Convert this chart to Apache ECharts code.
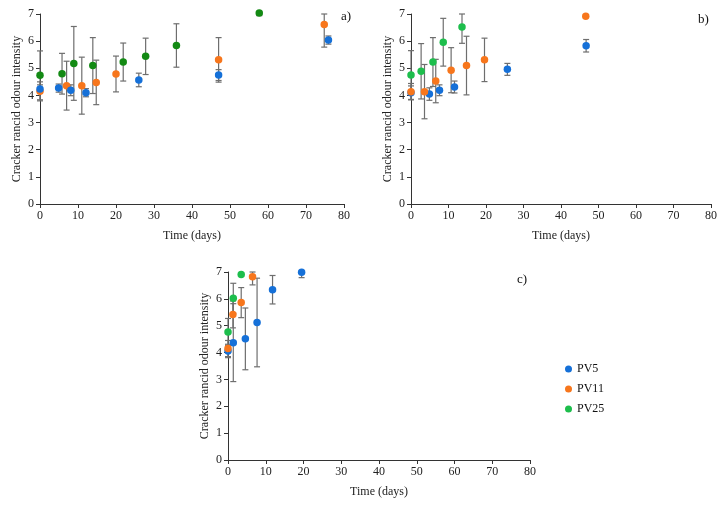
<!DOCTYPE html>
<html lang="en">
<head>
<meta charset="UTF-8">
<title>Cracker rancid odour</title>
<script src="https://cdn.jsdelivr.net/npm/echarts@6/dist/echarts.min.js"></script>
<style>
  html, body { margin: 0; padding: 0; background: #fff; }
  #box { width: 728px; height: 508px; }
</style>
</head>
<body>
<div id="box"></div>
<script>
// panel a
var aPV5Days = [0, 4.9, 8.1, 12.1, 26, 47, 75.9];
var aPV5Vals = [4.24, 4.27, 4.19, 4.10, 4.57, 4.75, 6.04];
var aPV5Errs = [0.15, 0.15, 0.2, 0.15, 0.25, 0.2, 0.15];
var aPV11Days = [0, 7, 11, 14.8, 20, 47, 74.8];
var aPV11Vals = [4.15, 4.36, 4.36, 4.48, 4.79, 5.31, 6.61];
var aPV11Errs = [0.35, 0.9, 1.05, 0.82, 0.66, 0.82, 0.83];
var aPV25Days = [0, 5.8, 8.9, 13.9, 21.9, 27.8, 35.9, 57.7];
var aPV25Vals = [4.74, 4.80, 5.18, 5.10, 5.23, 5.44, 5.84, 7.04];
var aPV25Errs = [0.9, 0.75, 1.36, 1.03, 0.7, 0.67, 0.8, 0.1];
// panel b
var bPV5Days = [0, 4.9, 7.6, 11.6, 25.7, 46.7];
var bPV5Vals = [4.10, 4.05, 4.19, 4.31, 4.96, 5.83];
var bPV5Errs = [0.25, 0.23, 0.2, 0.22, 0.22, 0.23];
var bPV11Days = [0, 3.6, 6.6, 10.7, 14.8, 19.6, 46.6];
var bPV11Vals = [4.14, 4.14, 4.53, 4.93, 5.10, 5.31, 6.92];
var bPV11Errs = [0.3, 1.0, 0.8, 0.83, 1.08, 0.8, 0];
var bPV25Days = [0, 2.7, 5.85, 8.6, 13.6];
var bPV25Vals = [4.75, 4.89, 5.23, 5.96, 6.52];
var bPV25Errs = [0.9, 1.02, 0.9, 0.88, 0.6];
// panel c
var cPV5Days = [0, 1.4, 4.6, 7.7, 11.8, 19.5];
var cPV5Vals = [4.06, 4.37, 4.51, 5.12, 6.34, 6.99];
var cPV5Errs = [0.25, 1.45, 1.15, 1.65, 0.53, 0.2];
var cPV11Days = [0, 1.3, 3.5, 6.5];
var cPV11Vals = [4.15, 5.42, 5.86, 6.82];
var cPV11Errs = [0.3, 0.5, 0.56, 0.3];
var cPV25Days = [0, 1.4, 3.5];
var cPV25Vals = [4.77, 6.02, 6.91];
var cPV25Errs = [0.5, 0.56, 0];

var xTicks = [0, 10, 20, 30, 40, 50, 60, 70, 80];
var yTicks = [0, 1, 2, 3, 4, 5, 6, 7];
var Y_MAX = yTicks[yTicks.length - 1];

var BLUE = '#1570d8', ORANGE = '#f7761c', GREEN = '#1dbe4c', DKGREEN = '#138a14';
var FONT = 'Liberation Serif';

var chart = echarts.init(document.getElementById('box'));

var grids = [
  { left: 40, right: 384, top: 14, bottom: 304 },
  { left: 411, right: 17, top: 14, bottom: 304 },
  { left: 228, right: 198, top: 272, bottom: 48 }
];

function xAxis(i) {
  return {
    gridIndex: i, type: 'value', min: xTicks[0], max: xTicks[xTicks.length - 1], interval: 10,
    name: 'Time (days)', nameLocation: 'middle', nameGap: 26,
    nameTextStyle: { fontFamily: FONT, fontSize: 12, color: '#222' },
    axisLine: { show: true, lineStyle: { color: '#333' } },
    axisTick: { show: true, length: 4, lineStyle: { color: '#333' } },
    axisLabel: { fontFamily: FONT, fontSize: 12, color: '#222', margin: 6 },
    splitLine: { show: false }
  };
}
function yAxis(i) {
  return {
    gridIndex: i, type: 'value', min: yTicks[0], max: Y_MAX, interval: 1,
    name: 'Cracker rancid odour intensity', nameLocation: 'middle', nameGap: 17,
    nameTextStyle: { fontFamily: FONT, fontSize: 12, color: '#222' },
    axisLine: { show: true, lineStyle: { color: '#333' } },
    axisTick: { show: true, length: 4, lineStyle: { color: '#333' } },
    axisLabel: { fontFamily: FONT, fontSize: 12, color: '#222', margin: 6 },
    splitLine: { show: false }
  };
}

function errSeries(i, days, vals, errs) {
  var data = [];
  for (var k = 0; k < days.length; k++) {
    if (errs[k] > 0) data.push([days[k], vals[k] - errs[k], vals[k] + errs[k]]);
  }
  return {
    type: 'custom', xAxisIndex: i, yAxisIndex: i, z: 1, silent: true, clip: false,
    data: data,
    renderItem: function (params, api) {
      var top = Math.min(api.value(2), Y_MAX);
      var lo = api.coord([api.value(0), api.value(1)]);
      var hi = api.coord([api.value(0), top]);
      var w = 3;
      var st = { stroke: '#6e6e6e', lineWidth: 1.2 };
      return {
        type: 'group',
        children: [
          { type: 'line', shape: { x1: lo[0], y1: lo[1], x2: hi[0], y2: hi[1] }, style: st },
          { type: 'line', shape: { x1: lo[0] - w, y1: lo[1], x2: lo[0] + w, y2: lo[1] }, style: st },
          { type: 'line', shape: { x1: hi[0] - w, y1: hi[1], x2: hi[0] + w, y2: hi[1] }, style: st }
        ]
      };
    }
  };
}
function dots(i, name, color, days, vals) {
  return {
    type: 'scatter', name: name, xAxisIndex: i, yAxisIndex: i, z: 3, clip: false,
    symbolSize: 7.5, itemStyle: { color: color, opacity: 1 },
    data: days.map(function (d, k) { return [d, vals[k]]; })
  };
}

var series = [
  errSeries(0, aPV5Days, aPV5Vals, aPV5Errs),
  errSeries(0, aPV11Days, aPV11Vals, aPV11Errs),
  errSeries(0, aPV25Days, aPV25Vals, aPV25Errs),
  errSeries(1, bPV5Days, bPV5Vals, bPV5Errs),
  errSeries(1, bPV11Days, bPV11Vals, bPV11Errs),
  errSeries(1, bPV25Days, bPV25Vals, bPV25Errs),
  errSeries(2, cPV5Days, cPV5Vals, cPV5Errs),
  errSeries(2, cPV11Days, cPV11Vals, cPV11Errs),
  errSeries(2, cPV25Days, cPV25Vals, cPV25Errs),
  dots(2, 'PV5', BLUE, cPV5Days, cPV5Vals),
  dots(2, 'PV11', ORANGE, cPV11Days, cPV11Vals),
  dots(2, 'PV25', GREEN, cPV25Days, cPV25Vals),
  dots(1, 'PV5', BLUE, bPV5Days, bPV5Vals),
  dots(1, 'PV11', ORANGE, bPV11Days, bPV11Vals),
  dots(1, 'PV25', GREEN, bPV25Days, bPV25Vals),
  dots(0, 'PV25', DKGREEN, aPV25Days, aPV25Vals),
  dots(0, 'PV11', ORANGE, aPV11Days, aPV11Vals),
  dots(0, 'PV5', BLUE, aPV5Days, aPV5Vals)
];

chart.setOption({
  animation: false,
  backgroundColor: '#fff',
  grid: grids,
  xAxis: [xAxis(0), xAxis(1), xAxis(2)],
  yAxis: [yAxis(0), yAxis(1), yAxis(2)],
  title: [
    { text: 'a)', left: 336, top: 5, textStyle: { fontFamily: FONT, fontSize: 13, fontWeight: 'normal', color: '#111' } },
    { text: 'b)', left: 693, top: 8, textStyle: { fontFamily: FONT, fontSize: 13, fontWeight: 'normal', color: '#111' } },
    { text: 'c)', left: 512, top: 268, textStyle: { fontFamily: FONT, fontSize: 13, fontWeight: 'normal', color: '#111' } }
  ],
  legend: {
    orient: 'vertical', left: 560, top: 358, itemGap: 8,
    icon: 'circle', itemWidth: 7, itemHeight: 7,
    textStyle: { fontFamily: FONT, fontSize: 12, color: '#111' },
    data: [
      { name: 'PV5', itemStyle: { color: BLUE } },
      { name: 'PV11', itemStyle: { color: ORANGE } },
      { name: 'PV25', itemStyle: { color: GREEN } }
    ]
  },
  series: series
});
</script>
</body>
</html>
